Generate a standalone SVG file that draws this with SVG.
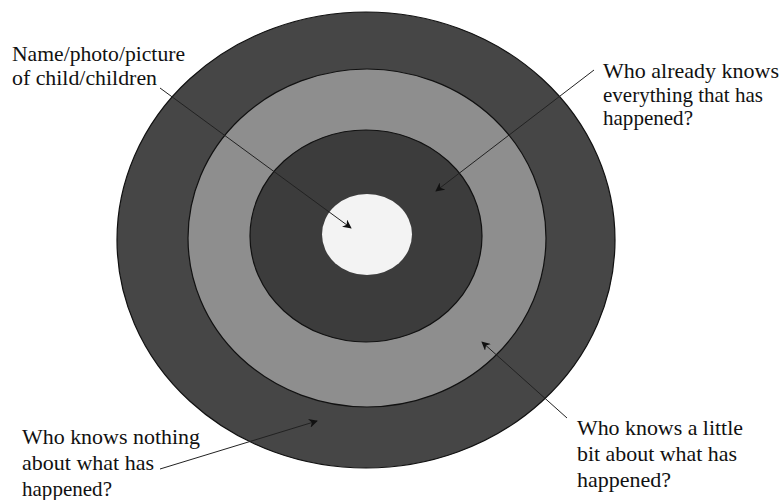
<svg xmlns="http://www.w3.org/2000/svg" width="782" height="500" viewBox="0 0 782 500">
<style>
  .ring { stroke: #111; stroke-width: 1.2; }
  .lbl { font-family: "Liberation Serif", "Times New Roman", serif; font-size: 21px; fill: #111; }
  .conn line { stroke: #222; stroke-width: 1; }
</style>
<defs>
  <marker id="ah" viewBox="0 0 10 10" refX="9" refY="5" markerWidth="9" markerHeight="9" markerUnits="userSpaceOnUse" orient="auto">
    <path d="M0,0 L10,5 L0,10 L3,5 Z" fill="#111"/>
  </marker>
</defs>
<rect width="782" height="500" fill="#fff"/>
<g id="ring-outer"><ellipse class="ring" cx="366" cy="240" rx="249" ry="228" fill="#464646"/></g>
<g id="ring-second"><ellipse class="ring" cx="367" cy="238" rx="179" ry="169" fill="#8e8e8e"/></g>
<g id="ring-third"><ellipse class="ring" cx="366" cy="236" rx="116" ry="106" fill="#3c3c3c"/></g>
<g id="center"><ellipse cx="367" cy="234.5" rx="45" ry="40.5" fill="#f3f3f3"/></g>
<g id="connectors" class="conn">
  <line x1="160" y1="88" x2="351" y2="228" marker-end="url(#ah)"/>
  <line x1="594" y1="70" x2="436" y2="191" marker-end="url(#ah)"/>
  <line x1="567" y1="418" x2="482" y2="342" marker-end="url(#ah)"/>
  <line x1="160" y1="469" x2="317" y2="421" marker-end="url(#ah)"/>
</g>
<g id="label-center">
  <text class="lbl" x="12" y="61" textLength="173" lengthAdjust="spacingAndGlyphs">Name/photo/picture</text>
  <text class="lbl" x="12" y="85" textLength="145" lengthAdjust="spacingAndGlyphs">of child/children</text>
</g>
<g id="label-already">
  <text class="lbl" x="603" y="78" textLength="176" lengthAdjust="spacingAndGlyphs">Who already knows</text>
  <text class="lbl" x="603" y="102" textLength="160" lengthAdjust="spacingAndGlyphs">everything that has</text>
  <text class="lbl" x="603" y="125" textLength="90" lengthAdjust="spacingAndGlyphs">happened?</text>
</g>
<g id="label-little">
  <text class="lbl" x="577" y="435" textLength="166" lengthAdjust="spacingAndGlyphs">Who knows a little</text>
  <text class="lbl" x="577" y="461" textLength="160" lengthAdjust="spacingAndGlyphs">bit about what has</text>
  <text class="lbl" x="577" y="487" textLength="94" lengthAdjust="spacingAndGlyphs">happened?</text>
</g>
<g id="label-nothing">
  <text class="lbl" x="22" y="444" textLength="178" lengthAdjust="spacingAndGlyphs">Who knows nothing</text>
  <text class="lbl" x="22" y="470" textLength="132" lengthAdjust="spacingAndGlyphs">about what has</text>
  <text class="lbl" x="22" y="496" textLength="90" lengthAdjust="spacingAndGlyphs">happened?</text>
</g>
</svg>
